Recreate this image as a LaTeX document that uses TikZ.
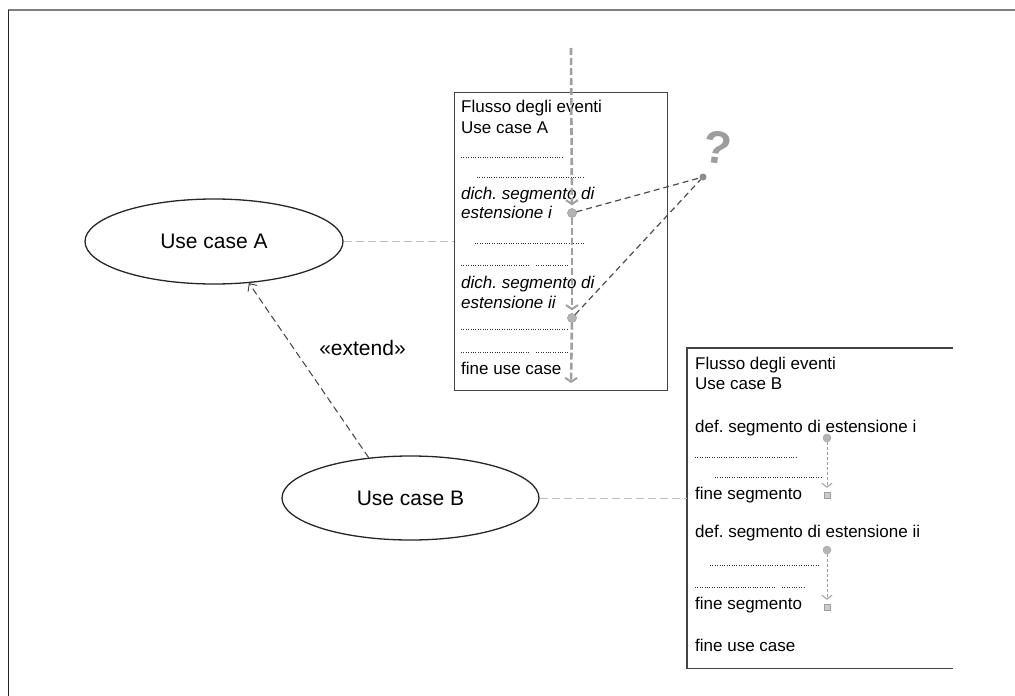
\documentclass[tikz,border=0pt]{standalone}
\usepackage{fontspec}
\setmainfont{Liberation Sans}
\usetikzlibrary{arrows.meta,shapes.geometric}
\frenchspacing

\definecolor{frameline}{HTML}{444444}
\definecolor{flowgray}{HTML}{A0A0A0}
\definecolor{markgray}{HTML}{B4B4B4}
\definecolor{linkgray}{HTML}{BDBDBD}
\definecolor{qgray}{HTML}{8C8C8C}

\begin{document}
\begin{tikzpicture}[x=1pt,y=-1pt,
  ucase/.style={draw=black!85, line width=1.3pt, ellipse, inner sep=0pt,
    font=\fontsize{21}{24}\selectfont},
  boxframe/.style={draw=frameline, line width=1.1pt, inner sep=0pt},
  boxtxt/.style={anchor=west, inner sep=0pt, text height=12pt, text depth=3.5pt,
    font=\fontsize{17}{20}\selectfont},
  dotrow/.style={line width=0.9pt, dash pattern=on 0.8pt off 1.6pt, black!80},
  link/.style={draw=linkgray, line width=0.8pt, dash pattern=on 8pt off 4pt},
  flow/.style={draw=flowgray, line width=2.6pt, dash pattern=on 7pt off 3pt,
    -{Straight Barb[length=4pt,width=12pt,line width=2pt]}, shorten >=3pt},
  subflow/.style={draw=flowgray, line width=0.8pt, dash pattern=on 3pt off 2pt,
    -{Straight Barb[length=4pt,width=10pt,line width=1pt]}, shorten >=4pt},
  extpoint/.style={circle, draw=flowgray, fill=markgray, minimum size=9pt, inner sep=0pt},
  extend/.style={rectangle, draw=flowgray, fill=markgray!70, minimum size=6pt, inner sep=0pt},
  qlink/.style={draw=black!70, line width=1.2pt, dash pattern=on 6pt off 4pt},
  extline/.style={draw=black!75, line width=1pt, dash pattern=on 7pt off 4pt,
    -{Straight Barb[length=6pt,width=11pt,line width=0.9pt]}}
]
\useasboundingbox (0,0) rectangle (1015,696);

% outer frame (top and left edges)
\coordinate (frTL) at (8,9.5);
\coordinate (frTR) at (1015,9.5);
\coordinate (frBL) at (8,696);
\draw[draw=gray, line width=2pt] (frTL) -- (frTR);
\draw[draw=black!85, line width=1pt] (frTL) -- (frBL);

% use cases
\node[ucase, minimum width=258pt, minimum height=85pt] (ucA) at (214,241.5) {Use case A};
\node[ucase, minimum width=257pt, minimum height=84pt] (ucB) at (410.5,498) {Use case B};

% flow of events, use case A
\node[boxframe, draw, minimum width=213pt, minimum height=298pt, anchor=north west]
  (boxA) at (454,92) {};
\node[boxtxt] (a1) at (461,108) {Flusso degli eventi};
\node[boxtxt] (a2) at (461,129) {Use case A};
\draw[dotrow] (461,157) -- (562,157);
\draw[dotrow] (477,177) -- (585,177);
\node[boxtxt] (a3) at (461,195) {\itshape dich. segmento di};
\node[boxtxt] (a4) at (461,214) {\itshape estensione i};
\draw[dotrow] (475,243) -- (585,243);
\draw[dotrow] (461,265) -- (530,265);
\draw[dotrow] (536,265) -- (568,265);
\node[boxtxt] (a5) at (461,284) {\itshape dich. segmento di};
\node[boxtxt] (a6) at (461,304) {\itshape estensione ii};
\draw[dotrow] (461,329) -- (568,329);
\draw[dotrow] (461,352) -- (530,352);
\draw[dotrow] (536,352) -- (568,352);
\node[boxtxt] (a7) at (461,370) {fine use case};

% main flow with its extension points
\coordinate (flowtop) at (571,48);
\coordinate (flowend) at (571,386);
\node[extpoint] (epA1) at (572,213) {};
\node[extpoint] (epA2) at (572,318) {};
\draw[flow] (flowtop) -- (epA1);
\draw[flow] (epA1) -- (epA2);
\draw[flow] (epA2) -- (flowend);
\node[extpoint] at (572,213) {};
\node[extpoint] at (572,318) {};

% which extension point?
\node[font=\fontsize{46}{46}\selectfont\bfseries, text=qgray!85, inner sep=0pt, rotate=-8]
  (qmark) at (718,148) {?};
\node[circle, fill=qgray, minimum size=7pt, inner sep=0pt] (qdot) at (703,177) {};
\draw[qlink] (epA1) -- (qdot);
\draw[qlink] (epA2) -- (qdot);

% flow of events, use case B (open on the right)
\node[inner sep=0pt, minimum width=266pt, minimum height=320pt, anchor=north west]
  (boxB) at (687,348) {};
\draw[draw=frameline, line width=1.1pt]
  (boxB.north east) -- (boxB.north west) -- (boxB.south west) -- (boxB.south east);
\node[boxtxt] (b1) at (695,365) {Flusso degli eventi};
\node[boxtxt] (b2) at (695,385) {Use case B};
\node[boxtxt] (b3) at (695,428) {def. segmento di estensione i};
\draw[dotrow] (695,457) -- (797,457);
\draw[dotrow] (715,477) -- (823,477);
\node[boxtxt] (b4) at (695,495) {fine segmento};
\node[boxtxt] (b5) at (695,533) {def. segmento di estensione ii};
\draw[dotrow] (710,565) -- (820,565);
\draw[dotrow] (695,587) -- (775,587);
\draw[dotrow] (782,587) -- (805,587);
\node[boxtxt] (b6) at (695,605) {fine segmento};
\node[boxtxt] (b7) at (695,647) {fine use case};

\node[extpoint, minimum size=8pt] (epB1) at (827,438) {};
\node[extend] (endB1) at (827,495) {};
\node[extpoint, minimum size=8pt] (epB2) at (827,550) {};
\node[extend] (endB2) at (827,607) {};
\draw[subflow] (epB1) -- (endB1);
\draw[subflow] (epB2) -- (endB2);

% links between use cases and their flows
\draw[link] (ucA.east) -- (ucA.east -| boxA.west);
\draw[link] (ucB.east) -- (ucB.east -| boxB.west);

% extend relationship
\draw[extline] (ucB.136) -- (ucA.-50);
\node[font=\fontsize{21}{24}\selectfont, inner sep=0pt] (extlbl) at (362.5,348) {«extend»};

\end{tikzpicture}
\end{document}
